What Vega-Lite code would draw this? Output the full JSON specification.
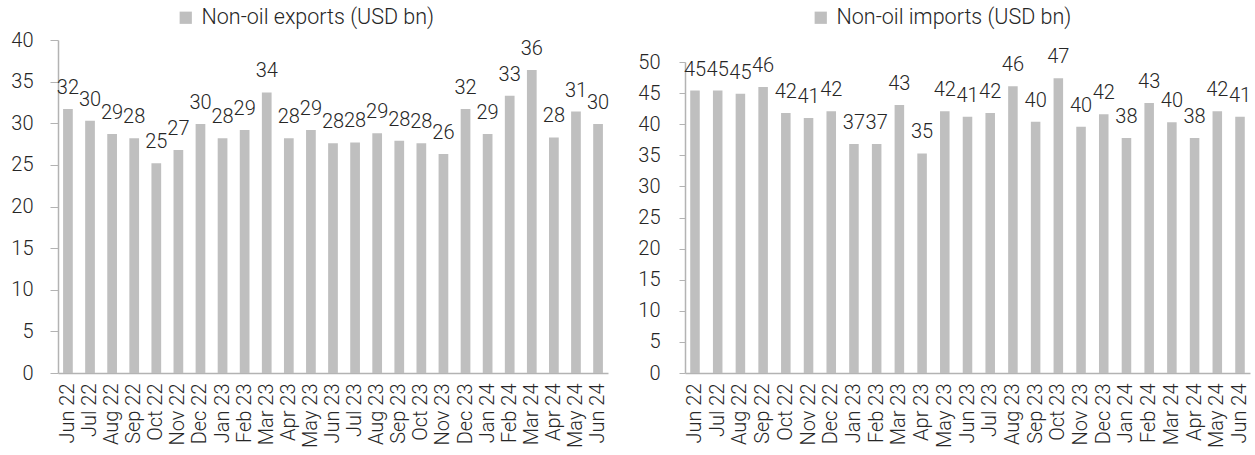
{
  "$schema": "https://vega.github.io/schema/vega-lite/v6.json",
  "background": "white",
  "padding": {"left": 10, "top": 7, "right": 5, "bottom": 5},
  "data": {
    "values": [
      {"month": "Jun 22", "exports": 31.7, "imports": 45.4},
      {"month": "Jul 22", "exports": 30.3, "imports": 45.4},
      {"month": "Aug 22", "exports": 28.7, "imports": 44.9},
      {"month": "Sep 22", "exports": 28.2, "imports": 46.0},
      {"month": "Oct 22", "exports": 25.2, "imports": 41.8},
      {"month": "Nov 22", "exports": 26.8, "imports": 41.0},
      {"month": "Dec 22", "exports": 29.9, "imports": 42.1},
      {"month": "Jan 23", "exports": 28.2, "imports": 36.8},
      {"month": "Feb 23", "exports": 29.2, "imports": 36.8},
      {"month": "Mar 23", "exports": 33.7, "imports": 43.1},
      {"month": "Apr 23", "exports": 28.2, "imports": 35.3},
      {"month": "May 23", "exports": 29.2, "imports": 42.1},
      {"month": "Jun 23", "exports": 27.6, "imports": 41.2},
      {"month": "Jul 23", "exports": 27.7, "imports": 41.8},
      {"month": "Aug 23", "exports": 28.8, "imports": 46.1},
      {"month": "Sep 23", "exports": 27.9, "imports": 40.4},
      {"month": "Oct 23", "exports": 27.6, "imports": 47.4},
      {"month": "Nov 23", "exports": 26.3, "imports": 39.6},
      {"month": "Dec 23", "exports": 31.7, "imports": 41.6},
      {"month": "Jan 24", "exports": 28.7, "imports": 37.8},
      {"month": "Feb 24", "exports": 33.3, "imports": 43.4},
      {"month": "Mar 24", "exports": 36.4, "imports": 40.3},
      {"month": "Apr 24", "exports": 28.3, "imports": 37.8},
      {"month": "May 24", "exports": 31.4, "imports": 42.1},
      {"month": "Jun 24", "exports": 29.9, "imports": 41.2}
    ]
  },
  "spacing": 27,
  "resolve": {"scale": {"x": "independent", "y": "independent", "color": "independent"}},
  "hconcat": [
    {
      "width": 550,
      "height": 333,
      "encoding": {
        "x": {
          "field": "month", "type": "ordinal", "sort": null,
          "scale": {"paddingInner": 0.56, "paddingOuter": 0.23},
          "axis": {"title": null, "labelAngle": -90, "labelAlign": "right", "labelBaseline": "middle", "ticks": false, "labelPadding": 10, "domainColor": "#B3B3B3", "domainWidth": 1.5}
        },
        "y": {
          "field": "exports", "type": "quantitative",
          "scale": {"domain": [0, 40], "nice": false},
          "axis": {"title": null, "values": [0, 5, 10, 15, 20, 25, 30, 35, 40], "tickSize": 8, "labelPadding": 17, "domainColor": "#B3B3B3", "tickColor": "#B3B3B3", "domainWidth": 1.5, "grid": false}
        }
      },
      "layer": [
        {
          "mark": {"type": "bar", "color": "#BFBFBF"},
          "encoding": {
            "color": {
              "datum": "Non-oil exports (USD bn)",
              "scale": {"range": ["#BFBFBF"]},
              "legend": {"orient": "none", "legendX": 117, "legendY": -33, "title": null, "symbolType": "square", "symbolSize": 150, "symbolStrokeWidth": 0, "labelFontSize": 21.5, "labelFont": "Roboto", "labelFontWeight": 300, "labelColor": "#262626", "labelOffset": 5, "labelLimit": 0}
            }
          }
        },
        {
          "mark": {"type": "text", "baseline": "alphabetic", "dy": -15, "fontSize": 20, "font": "Roboto", "fontWeight": 300, "color": "#262626"},
          "encoding": {"text": {"field": "exports", "type": "quantitative", "format": ".0f"}}
        }
      ]
    },
    {
      "width": 565,
      "height": 333,
      "encoding": {
        "x": {
          "field": "month", "type": "ordinal", "sort": null,
          "scale": {"paddingInner": 0.58, "paddingOuter": 0.23},
          "axis": {"title": null, "labelAngle": -90, "labelAlign": "right", "labelBaseline": "middle", "ticks": false, "labelPadding": 10, "domainColor": "#B3B3B3", "domainWidth": 1.5}
        },
        "y": {
          "field": "imports", "type": "quantitative",
          "scale": {"domain": [0, 50], "nice": false, "range": [333, 22]},
          "axis": {"title": null, "values": [0, 5, 10, 15, 20, 25, 30, 35, 40, 45, 50], "tickSize": 6, "labelPadding": 19, "domainColor": "#B3B3B3", "tickColor": "#B3B3B3", "domainWidth": 1.5, "grid": false}
        }
      },
      "layer": [
        {
          "mark": {"type": "bar", "color": "#BFBFBF"},
          "encoding": {
            "color": {
              "datum": "Non-oil imports (USD bn)",
              "scale": {"range": ["#BFBFBF"]},
              "legend": {"orient": "none", "legendX": 125, "legendY": -33, "title": null, "symbolType": "square", "symbolSize": 150, "symbolStrokeWidth": 0, "labelFontSize": 21.5, "labelFont": "Roboto", "labelFontWeight": 300, "labelColor": "#262626", "labelOffset": 5, "labelLimit": 0}
            }
          }
        },
        {
          "mark": {"type": "text", "baseline": "alphabetic", "dy": -15, "fontSize": 20, "font": "Roboto", "fontWeight": 300, "color": "#262626"},
          "encoding": {"text": {"field": "imports", "type": "quantitative", "format": ".0f"}}
        }
      ]
    }
  ],
  "config": {
    "font": "Roboto",
    "view": {"stroke": null},
    "axis": {"labelFont": "Roboto", "labelFontWeight": 300, "labelFontSize": 20, "labelColor": "#262626"}
  }
}
